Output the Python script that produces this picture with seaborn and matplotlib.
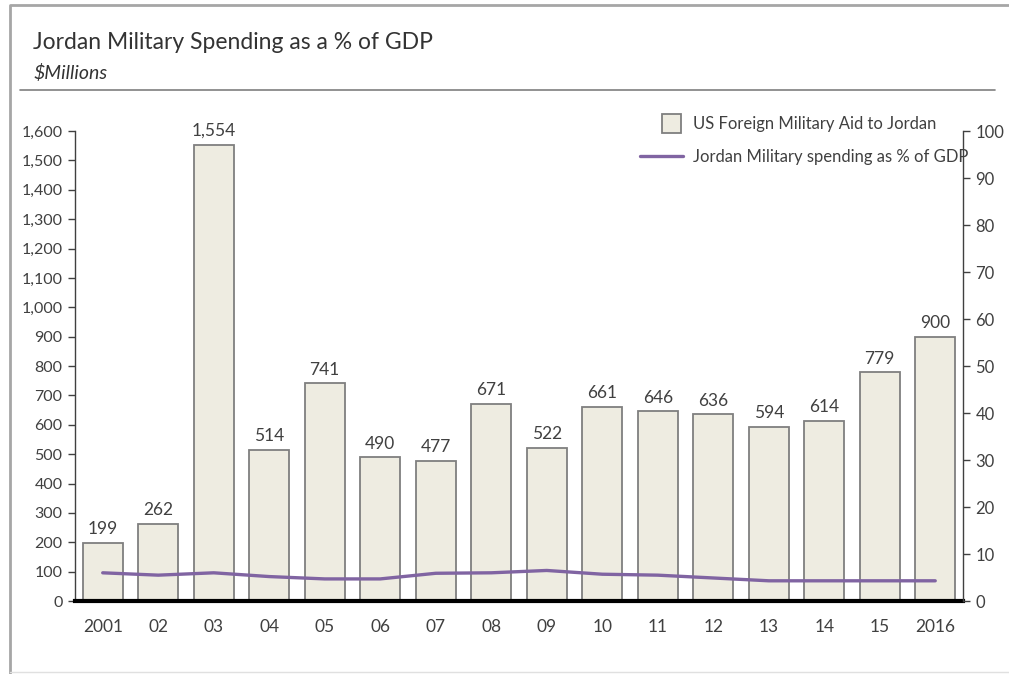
import matplotlib
matplotlib.use("Agg")
import matplotlib.pyplot as plt
import seaborn as sns
import pandas as pd
from matplotlib.patches import Patch, Rectangle
from matplotlib.lines import Line2D
from matplotlib.legend_handler import HandlerPatch

years = ["2001", "02", "03", "04", "05", "06", "07", "08", "09", "10", "11", "12", "13", "14", "15", "2016"]
aid = [199, 262, 1554, 514, 741, 490, 477, 671, 522, 661, 646, 636, 594, 614, 779, 900]
pct_gdp = [6.0, 5.5, 6.0, 5.2, 4.7, 4.7, 5.9, 6.0, 6.5, 5.7, 5.5, 4.9, 4.3, 4.3, 4.3, 4.3]

df = pd.DataFrame({"year": years, "aid": aid, "pct": pct_gdp})

sns.set_style("white")
plt.rcParams["font.family"] = ["Lato", "DejaVu Sans"]

TXT = "#404040"
BAR = "#EEECE1"
EDGE = "#7F7F7F"
PURPLE = "#8064A2"


class SquareHandler(HandlerPatch):
    def create_artists(self, legend, orig_handle, xdescent, ydescent,
                       width, height, fontsize, trans):
        s = height * 1.6
        r = Rectangle((width - s - xdescent - 2, -ydescent + (height - s) / 2), s, s,
                      facecolor=orig_handle.get_facecolor(),
                      edgecolor=orig_handle.get_edgecolor(),
                      linewidth=orig_handle.get_linewidth(), transform=trans)
        return [r]


fig = plt.figure(figsize=(10.09, 6.74), dpi=100)
ax = fig.add_axes([0.0743, 0.1083, 0.8801, 0.6973])

sns.barplot(data=df, x="year", y="aid", ax=ax, color=BAR, edgecolor=EDGE,
            linewidth=1.3, width=0.72, saturation=1)
ax.set_xlim(-0.5, len(years) - 0.5)
ax.set_ylim(0, 1600)
ax.set_yticks(range(0, 1601, 100))
ax.set_yticklabels([f"{v:,}" for v in range(0, 1601, 100)])
ax.set_xlabel("")
ax.set_ylabel("")
ax.tick_params(axis="y", direction="out", length=5, width=1, color=TXT,
               labelsize=11.5, labelcolor=TXT, pad=4, left=True)
ax.tick_params(axis="x", length=0, labelsize=12.5, labelcolor=TXT, pad=13)
for sp in ["top", "right"]:
    ax.spines[sp].set_visible(False)
ax.spines["left"].set_color(TXT)
ax.spines["left"].set_linewidth(1)
ax.spines["bottom"].set_color("black")
ax.spines["bottom"].set_linewidth(3)
ax.spines["bottom"].set_zorder(5)

for c in ax.containers:
    ax.bar_label(c, labels=[f"{v:,}" for v in aid], padding=4,
                 fontsize=12.5, color=TXT)

ax2 = ax.twinx()
sns.lineplot(data=df, x="year", y="pct", ax=ax2, color=PURPLE, linewidth=2.4,
             sort=False)
ax2.set_ylim(0, 100)
ax2.set_yticks(range(0, 101, 10))
ax2.set_ylabel("")
ax2.tick_params(axis="y", direction="out", length=5, width=1, color=TXT,
                labelsize=12, labelcolor=TXT, pad=4, right=True)
for sp in ["top", "left", "bottom"]:
    ax2.spines[sp].set_visible(False)
ax2.spines["right"].set_color(TXT)
ax2.spines["right"].set_linewidth(1)
ax2.set_xlim(-0.5, len(years) - 0.5)

handles = [Patch(facecolor=BAR, edgecolor=EDGE, linewidth=1.3),
           Line2D([0], [0], color=PURPLE, linewidth=2.4)]
labels = ["US Foreign Military Aid to Jordan", "Jordan Military spending as % of GDP"]
leg = fig.legend(handles, labels, loc="upper left",
                 bbox_to_anchor=(640 / 1009, 1 - 116 / 674),
                 bbox_transform=fig.transFigure, borderaxespad=0, borderpad=0,
                 frameon=False, fontsize=12, handlelength=2.6, handletextpad=0.6,
                 labelspacing=1.0, handler_map={Patch: SquareHandler()})
for t in leg.get_texts():
    t.set_color(TXT)

fig.text(0.033, 0.937, "Jordan Military Spending as a % of GDP", fontsize=16.5,
         color="#333333", va="center", ha="left")
fig.text(0.033, 0.892, "$Millions", fontsize=14, style="italic",
         color="#333333", va="center", ha="left")
fig.add_artist(Line2D([0.02, 0.986], [0.866, 0.866], color="#7F7F7F", linewidth=1.2,
                      transform=fig.transFigure))
fig.add_artist(Line2D([0.01, 0.01, 1.0], [0.0, 0.993, 0.993], color="#A6A6A6",
                      linewidth=2, transform=fig.transFigure))
fig.add_artist(Line2D([0.01, 1.0], [0.003, 0.003], color="#E0E0E0",
                      linewidth=1, transform=fig.transFigure))

fig.savefig("out.png", dpi=100)
